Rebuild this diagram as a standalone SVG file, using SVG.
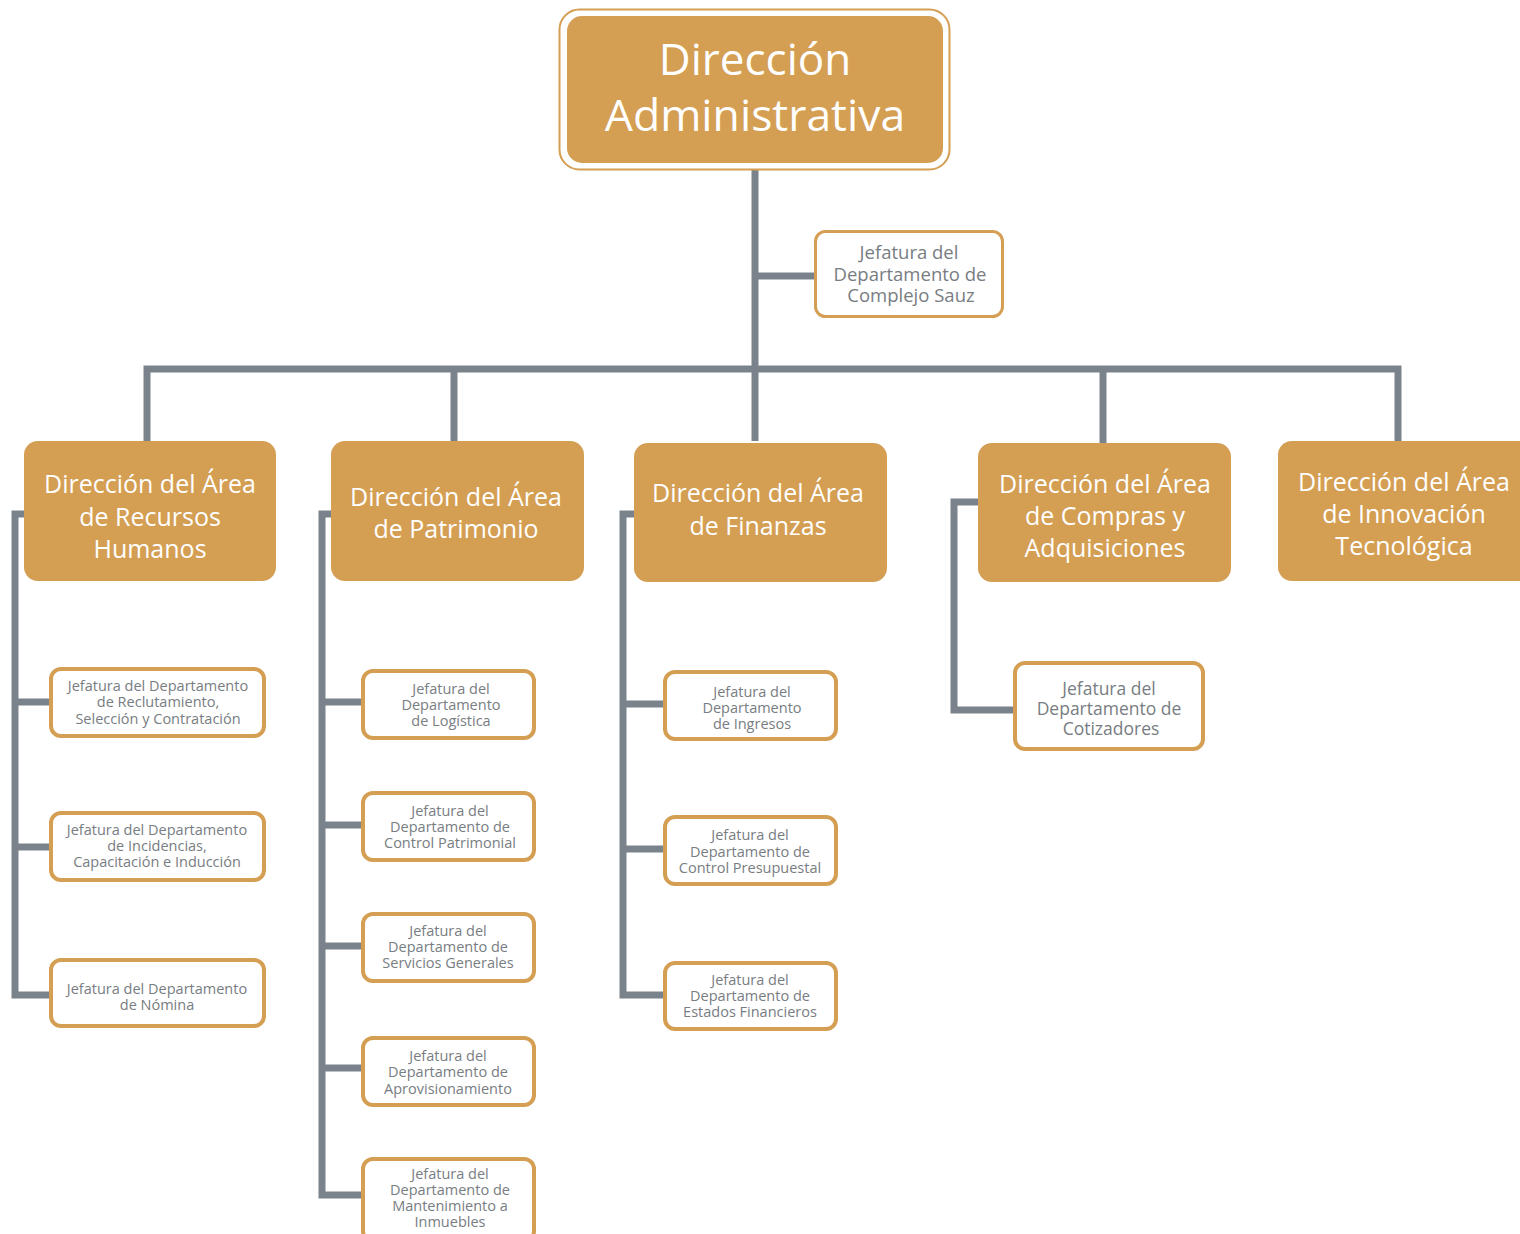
<svg xmlns="http://www.w3.org/2000/svg" width="1520" height="1234" viewBox="0 0 1520 1234">
<style>
.area{fill:#D49E53}
.w{fill:#FFFFFF;font-family:"Open Sans","Noto Sans",sans-serif;text-anchor:middle}
.jb{fill:#FFFFFF;stroke:#D49E53;stroke-width:4}
.jt{fill:#787D82;font-family:"Open Sans","Noto Sans",sans-serif;text-anchor:middle;font-size:14.5px}
.ln{fill:none;stroke:#7A838B;stroke-width:7;stroke-linecap:butt;stroke-linejoin:miter}
</style>
<rect width="1520" height="1234" fill="#FFFFFF"/>
<g id="connectors">
<path class="ln" d="M755 170 V441"/>
<path class="ln" d="M755 276 H815"/>
<path class="ln" d="M147 441 V369 H1398 V441"/>
<path class="ln" d="M454 369 V441"/>
<path class="ln" d="M1103 369 V443"/>
<path class="ln" d="M24 514 H15 V995 H50"/>
<path class="ln" d="M15 702 H50"/>
<path class="ln" d="M15 847 H50"/>
<path class="ln" d="M331 514 H322 V1195 H362"/>
<path class="ln" d="M322 702 H362"/>
<path class="ln" d="M322 825 H362"/>
<path class="ln" d="M322 946 H362"/>
<path class="ln" d="M322 1068 H362"/>
<path class="ln" d="M634 514 H623 V995 H664"/>
<path class="ln" d="M623 704 H664"/>
<path class="ln" d="M623 849 H664"/>
<path class="ln" d="M978 502 H954 V710 H1014"/>
</g>
<g id="top">
<rect x="559.5" y="9.5" width="390" height="160" rx="20" fill="#FFFFFF" stroke="#D49E53" stroke-width="2"/>
<rect x="567" y="16" width="376" height="147" rx="15" class="area"/>
<text class="w" font-size="44" x="755" y="75">Dirección</text>
<text class="w" font-size="44.5" x="755" y="131">Administrativa</text>
</g>
<g id="sauz">
<rect x="815.5" y="231.5" width="187" height="85" rx="10" fill="#FFFFFF" stroke="#D49E53" stroke-width="3"/>
<text class="jt" style="font-size:18.5px" x="909" y="259">Jefatura del</text>
<text class="jt" style="font-size:18.5px" x="910" y="281">Departamento de</text>
<text class="jt" style="font-size:18.5px" x="911" y="302">Complejo Sauz</text>
</g>
<g id="rh">
<rect x="24" y="441" width="252" height="140" rx="14" class="area"/>
<text class="w" font-size="25" x="150" y="493">Dirección del Área</text>
<text class="w" font-size="25" x="150" y="526">de Recursos</text>
<text class="w" font-size="25" x="150" y="558">Humanos</text>
</g>
<g id="patrimonio">
<rect x="331" y="441" width="253" height="140" rx="14" class="area"/>
<text class="w" font-size="25" x="456" y="506">Dirección del Área</text>
<text class="w" font-size="25" x="456" y="538">de Patrimonio</text>
</g>
<g id="finanzas">
<rect x="634" y="443" width="253" height="139" rx="14" class="area"/>
<text class="w" font-size="25" x="758" y="502">Dirección del Área</text>
<text class="w" font-size="25" x="758" y="535">de Finanzas</text>
</g>
<g id="compras">
<rect x="978" y="443" width="253" height="139" rx="14" class="area"/>
<text class="w" font-size="25" x="1105" y="493">Dirección del Área</text>
<text class="w" font-size="25" x="1105" y="525">de Compras y</text>
<text class="w" font-size="25" x="1105" y="557">Adquisiciones</text>
</g>
<g id="innovacion">
<rect x="1278" y="441" width="262" height="140" rx="14" class="area"/>
<text class="w" font-size="25" x="1404" y="491">Dirección del Área</text>
<text class="w" font-size="25" x="1404" y="523">de Innovación</text>
<text class="w" font-size="25" x="1404" y="555">Tecnológica</text>
</g>
<g id="rh1">
<rect x="51" y="669" width="213" height="67" rx="10" class="jb"/>
<text class="jt" x="158" y="691">Jefatura del Departamento</text>
<text class="jt" x="158" y="707">de Reclutamiento,</text>
<text class="jt" x="158" y="724">Selección y Contratación</text>
</g>
<g id="rh2">
<rect x="51" y="813" width="213" height="67" rx="10" class="jb"/>
<text class="jt" x="157" y="835">Jefatura del Departamento</text>
<text class="jt" x="157" y="851">de Incidencias,</text>
<text class="jt" x="157" y="867">Capacitación e Inducción</text>
</g>
<g id="rh3">
<rect x="51" y="960" width="213" height="66" rx="10" class="jb"/>
<text class="jt" x="157" y="994">Jefatura del Departamento</text>
<text class="jt" x="157" y="1010">de Nómina</text>
</g>
<g id="pa1">
<rect x="363" y="671" width="171" height="67" rx="10" class="jb"/>
<text class="jt" x="451" y="694">Jefatura del</text>
<text class="jt" x="451" y="710">Departamento</text>
<text class="jt" x="451" y="726">de Logística</text>
</g>
<g id="pa2">
<rect x="363" y="793" width="171" height="67" rx="10" class="jb"/>
<text class="jt" x="450" y="816">Jefatura del</text>
<text class="jt" x="450" y="832">Departamento de</text>
<text class="jt" x="450" y="848">Control Patrimonial</text>
</g>
<g id="pa3">
<rect x="363" y="914" width="171" height="67" rx="10" class="jb"/>
<text class="jt" x="448" y="936">Jefatura del</text>
<text class="jt" x="448" y="952">Departamento de</text>
<text class="jt" x="448" y="968">Servicios Generales</text>
</g>
<g id="pa4">
<rect x="363" y="1038" width="171" height="67" rx="10" class="jb"/>
<text class="jt" x="448" y="1061">Jefatura del</text>
<text class="jt" x="448" y="1077">Departamento de</text>
<text class="jt" x="448" y="1094">Aprovisionamiento</text>
</g>
<g id="pa5">
<rect x="363" y="1159" width="171" height="82" rx="10" class="jb"/>
<text class="jt" x="450" y="1179">Jefatura del</text>
<text class="jt" x="450" y="1195">Departamento de</text>
<text class="jt" x="450" y="1211">Mantenimiento a</text>
<text class="jt" x="450" y="1227">Inmuebles</text>
</g>
<g id="fi1">
<rect x="665" y="672" width="171" height="67" rx="10" class="jb"/>
<text class="jt" x="752" y="697">Jefatura del</text>
<text class="jt" x="752" y="713">Departamento</text>
<text class="jt" x="752" y="729">de Ingresos</text>
</g>
<g id="fi2">
<rect x="665" y="817" width="171" height="67" rx="10" class="jb"/>
<text class="jt" x="750" y="840">Jefatura del</text>
<text class="jt" x="750" y="857">Departamento de</text>
<text class="jt" x="750" y="873">Control Presupuestal</text>
</g>
<g id="fi3">
<rect x="665" y="963" width="171" height="66" rx="10" class="jb"/>
<text class="jt" x="750" y="985">Jefatura del</text>
<text class="jt" x="750" y="1001">Departamento de</text>
<text class="jt" x="750" y="1017">Estados Financieros</text>
</g>
<g id="co1">
<rect x="1015" y="663" width="188" height="86" rx="10" class="jb"/>
<text class="jt" style="font-size:17.5px" x="1109" y="695">Jefatura del</text>
<text class="jt" style="font-size:17.5px" x="1109" y="715">Departamento de</text>
<text class="jt" style="font-size:17.5px" x="1111" y="735">Cotizadores</text>
</g>
</svg>
